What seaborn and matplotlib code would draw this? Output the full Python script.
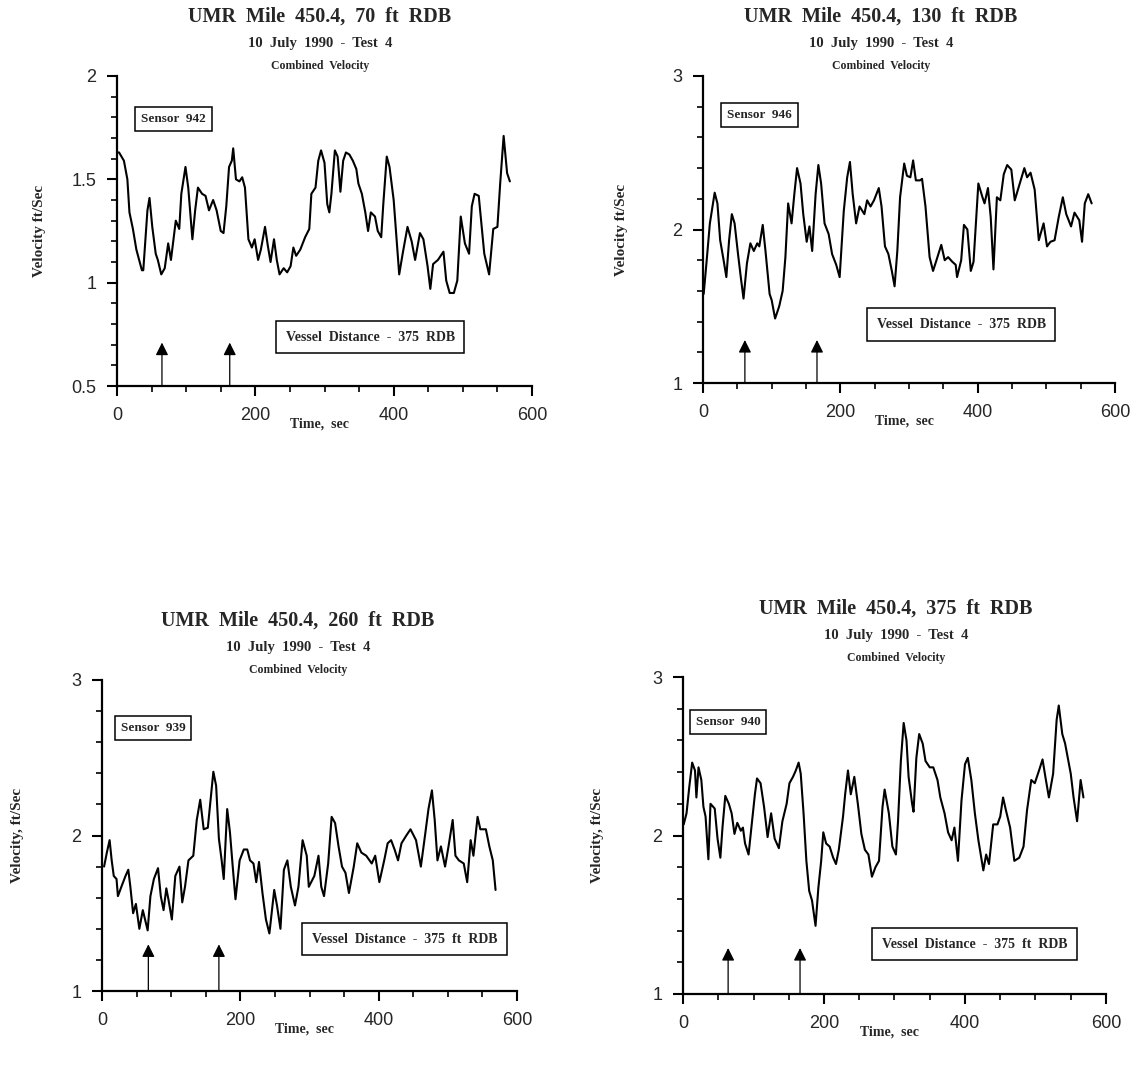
import numpy as np
import matplotlib
matplotlib.use("Agg")
import matplotlib.pyplot as plt
from matplotlib.ticker import MultipleLocator
import seaborn as sns
import pandas as pd

# panel 1 - 70 ft RDB, sensor 942
t1 = [0, 3, 10, 15, 18, 23, 28, 36, 38, 44,
      47, 51, 56, 59, 64, 69, 74, 78, 85, 90,
      93, 99, 103, 109, 113, 117, 123, 128, 133, 139,
      144, 150, 154, 158, 162, 166, 168, 172, 177, 181,
      185, 190, 195, 199, 204, 208, 214, 218, 222, 227,
      231, 235, 241, 246, 251, 255, 259, 265, 272, 278,
      281, 287, 291, 295, 300, 304, 307, 310, 315, 319,
      323, 327, 331, 336, 341, 346, 349, 354, 359, 363,
      367, 373, 377, 382, 385, 390, 394, 400, 404, 408,
      413, 420, 426, 431, 438, 443, 449, 453, 457, 464,
      472, 476, 481, 487, 492, 497, 503, 509, 513, 517,
      523, 531, 538, 544, 550, 554, 559, 564, 568]
v1 = [1.63, 1.63, 1.59, 1.50, 1.34, 1.26, 1.16, 1.06, 1.06, 1.35,
      1.41, 1.27, 1.14, 1.11, 1.04, 1.07, 1.19, 1.11, 1.30, 1.26,
      1.43, 1.56, 1.46, 1.21, 1.35, 1.46, 1.43, 1.42, 1.35, 1.40,
      1.35, 1.25, 1.24, 1.37, 1.56, 1.59, 1.65, 1.50, 1.49, 1.51,
      1.46, 1.21, 1.17, 1.21, 1.11, 1.16, 1.27, 1.18, 1.10, 1.21,
      1.11, 1.04, 1.07, 1.05, 1.08, 1.17, 1.13, 1.16, 1.22, 1.26,
      1.43, 1.46, 1.59, 1.64, 1.58, 1.38, 1.34, 1.43, 1.64, 1.61,
      1.44, 1.59, 1.63, 1.62, 1.59, 1.55, 1.48, 1.43, 1.34, 1.25,
      1.34, 1.32, 1.25, 1.22, 1.38, 1.61, 1.56, 1.40, 1.22, 1.04,
      1.14, 1.27, 1.20, 1.11, 1.24, 1.21, 1.08, 0.97, 1.09, 1.11,
      1.15, 1.01, 0.95, 0.95, 1.01, 1.32, 1.19, 1.14, 1.37, 1.43,
      1.42, 1.14, 1.04, 1.26, 1.27, 1.48, 1.71, 1.53, 1.49]

# panel 2 - 130 ft RDB, sensor 946
t2 = [1, 5, 10, 17, 21, 25, 30, 34, 38, 42,
      46, 51, 55, 59, 64, 69, 74, 79, 82, 87,
      91, 97, 100, 105, 111, 116, 120, 124, 129, 133,
      137, 142, 146, 151, 155, 159, 164, 168, 172, 177,
      183, 188, 194, 199, 205, 210, 214, 218, 223, 228,
      235, 239, 244, 249, 256, 260, 265, 270, 275, 279,
      283, 287, 293, 297, 302, 306, 310, 316, 319, 324,
      330, 335, 340, 347, 352, 357, 363, 368, 370, 376,
      380, 385, 390, 394, 401, 407, 410, 415, 419, 423,
      428, 433, 438, 443, 449, 454, 460, 468, 472, 477,
      483, 489, 496, 501, 506, 512, 518, 524, 529, 536,
      541, 548, 552, 556, 561, 566]
v2 = [1.58, 1.78, 2.04, 2.24, 2.17, 1.93, 1.80, 1.69, 1.93, 2.10,
      2.04, 1.84, 1.69, 1.55, 1.78, 1.91, 1.86, 1.91, 1.89, 2.03,
      1.86, 1.58, 1.54, 1.42, 1.50, 1.60, 1.82, 2.17, 2.04, 2.23,
      2.40, 2.30, 2.10, 1.92, 2.02, 1.86, 2.23, 2.42, 2.30, 2.04,
      1.97, 1.84, 1.77, 1.69, 2.12, 2.34, 2.44, 2.23, 2.04, 2.15,
      2.10, 2.19, 2.15, 2.19, 2.27, 2.15, 1.89, 1.84, 1.73, 1.63,
      1.86, 2.21, 2.43, 2.35, 2.34, 2.45, 2.32, 2.32, 2.33, 2.15,
      1.82, 1.73, 1.80, 1.90, 1.80, 1.82, 1.79, 1.77, 1.69, 1.80,
      2.03, 2.00, 1.73, 1.79, 2.30, 2.21, 2.17, 2.27, 2.08, 1.74,
      2.21, 2.19, 2.36, 2.42, 2.39, 2.19, 2.28, 2.40, 2.34, 2.37,
      2.26, 1.93, 2.04, 1.89, 1.92, 1.93, 2.08, 2.21, 2.10, 2.02,
      2.11, 2.06, 1.92, 2.17, 2.23, 2.17]

# panel 3 - 260 ft RDB, sensor 939
t3 = [3, 7, 11, 14, 17, 21, 23, 28, 34, 38,
      41, 45, 49, 54, 59, 66, 70, 75, 81, 85,
      89, 93, 96, 101, 106, 112, 116, 120, 125, 132,
      137, 142, 147, 153, 157, 161, 165, 169, 173, 176,
      181, 185, 189, 193, 199, 205, 210, 214, 219, 223,
      227, 232, 237, 242, 249, 253, 258, 263, 268, 273,
      279, 284, 290, 296, 299, 307, 313, 317, 321, 327,
      332, 337, 342, 347, 352, 357, 364, 369, 375, 382,
      390, 395, 401, 408, 413, 418, 423, 428, 433, 440,
      446, 454, 461, 467, 472, 477, 481, 485, 490, 496,
      501, 507, 511, 516, 523, 528, 533, 537, 543, 547,
      555, 560, 565, 569]
v3 = [1.80, 1.89, 1.97, 1.84, 1.74, 1.72, 1.61, 1.67, 1.74, 1.78,
      1.67, 1.50, 1.56, 1.40, 1.52, 1.39, 1.61, 1.72, 1.79, 1.61,
      1.52, 1.66, 1.59, 1.46, 1.74, 1.80, 1.57, 1.67, 1.84, 1.87,
      2.10, 2.23, 2.04, 2.05, 2.23, 2.41, 2.32, 1.98, 1.84, 1.72,
      2.17, 2.02, 1.80, 1.59, 1.84, 1.91, 1.91, 1.84, 1.82, 1.70,
      1.83, 1.63, 1.46, 1.37, 1.65, 1.55, 1.40, 1.78, 1.84, 1.67,
      1.55, 1.67, 1.97, 1.87, 1.67, 1.74, 1.87, 1.67, 1.61, 1.82,
      2.12, 2.08, 1.93, 1.80, 1.76, 1.63, 1.80, 1.95, 1.89, 1.87,
      1.82, 1.87, 1.70, 1.84, 1.95, 1.97, 1.91, 1.84, 1.95, 2.00,
      2.04, 1.97, 1.80, 2.00, 2.17, 2.29, 2.10, 1.84, 1.93, 1.80,
      1.93, 2.10, 1.87, 1.84, 1.82, 1.70, 1.97, 1.87, 2.12, 2.04,
      2.04, 1.93, 1.84, 1.65]

# panel 4 - 375 ft RDB, sensor 940
t4 = [1, 5, 9, 13, 17, 19, 22, 26, 29, 32,
      36, 39, 45, 49, 53, 56, 60, 65, 69, 73,
      77, 82, 85, 88, 93, 97, 102, 105, 110, 115,
      120, 125, 130, 136, 141, 147, 151, 156, 160, 164,
      167, 171, 175, 179, 183, 188, 192, 196, 199, 203,
      208, 213, 217, 221, 227, 230, 234, 238, 243, 248,
      253, 258, 263, 268, 273, 278, 283, 286, 292, 297,
      302, 305, 309, 313, 317, 320, 325, 327, 331, 335,
      340, 344, 350, 355, 361, 365, 371, 376, 381, 385,
      390, 395, 400, 404, 409, 414, 419, 426, 430, 434,
      440, 446, 450, 454, 458, 464, 470, 477, 483, 488,
      494, 499, 505, 510, 514, 519, 525, 530, 533, 538,
      542, 550, 554, 559, 564, 568]
v4 = [2.07, 2.14, 2.31, 2.46, 2.41, 2.24, 2.43, 2.35, 2.18, 2.12,
      1.85, 2.20, 2.17, 1.98, 1.86, 2.05, 2.25, 2.20, 2.14, 2.01,
      2.08, 2.03, 2.05, 1.95, 1.88, 2.05, 2.26, 2.36, 2.33, 2.18,
      1.99, 2.14, 1.98, 1.92, 2.09, 2.20, 2.33, 2.37, 2.41, 2.46,
      2.39, 2.14, 1.84, 1.65, 1.59, 1.43, 1.67, 1.84, 2.02, 1.95,
      1.93, 1.86, 1.82, 1.91, 2.12, 2.26, 2.41, 2.26, 2.37, 2.20,
      2.01, 1.91, 1.88, 1.74, 1.80, 1.84, 2.18, 2.29, 2.14, 1.93,
      1.88, 2.09, 2.47, 2.71, 2.60, 2.37, 2.20, 2.15, 2.49, 2.64,
      2.58, 2.47, 2.43, 2.43, 2.35, 2.24, 2.14, 2.02, 1.97, 2.05,
      1.84, 2.22, 2.45, 2.49, 2.35, 2.14, 1.97, 1.78, 1.88, 1.82,
      2.07, 2.07, 2.12, 2.24, 2.16, 2.05, 1.84, 1.86, 1.93, 2.16,
      2.35, 2.33, 2.41, 2.48, 2.37, 2.24, 2.39, 2.73, 2.82, 2.64,
      2.58, 2.39, 2.24, 2.09, 2.35, 2.24]

titles = ["UMR  Mile  450.4,  70  ft  RDB", "UMR  Mile  450.4,  130  ft  RDB",
          "UMR  Mile  450.4,  260  ft  RDB", "UMR  Mile  450.4,  375  ft  RDB"]
sensors = ["Sensor  942", "Sensor  946", "Sensor  939", "Sensor  940"]
vessel_labels = ["Vessel  Distance  -  375  RDB", "Vessel  Distance  -  375  RDB",
                 "Vessel  Distance  -  375  ft  RDB", "Vessel  Distance  -  375  ft  RDB"]
ylabels = ["Velocity ft/Sec", "Velocity ft/Sec", "Velocity, ft/Sec", "Velocity, ft/Sec"]
arrow_times = [[65, 163], [61, 166], [67, 169], [64, 166]]
ylims = [(0.5, 2.0), (1.0, 3.0), (1.0, 3.0), (1.0, 3.0)]
yticks = [[0.5, 1, 1.5, 2], [1, 2, 3], [1, 2, 3], [1, 2, 3]]
yticklabels = [["0.5", "1", "1.5", "2"], ["1", "2", "3"], ["1", "2", "3"], ["1", "2", "3"]]

sns.set_style("ticks")
plt.rcParams['font.family'] = ['Liberation Sans', 'DejaVu Sans']

W, H = 1146, 1069
fig = plt.figure(figsize=(W / 100, H / 100), dpi=100)

# axes boxes in pixels: left, top, right, bottom
boxes = [(117, 76, 532, 386), (703, 76, 1115, 383), (102, 680, 517, 991), (683, 677, 1106, 994)]
# text anchors in pixels
title_xy = [(320, 17), (881, 17), (298, 621), (896, 609)]
ylab_x = [40, 622, 18, 598]
sensor_pos = [(82, 1.79), (82, 2.744), (74, 2.69), (64, 2.716)]
vessel_pos = [(366, 0.737), (376, 1.382), (438, 1.334), (414, 1.315)]
arrow_tip = [0.71, 1.28, 1.30, 1.29]
ymin_step = [0.1, 0.2, 0.2, 0.2]

series = [(t1, v1), (t2, v2), (t3, v3), (t4, v4)]
serif = ['Liberation Serif', 'DejaVu Serif']

for i, (tt, vv) in enumerate(series):
    l, tp, r, b = boxes[i]
    ax = fig.add_axes([l / W, 1 - b / H, (r - l) / W, (b - tp) / H])
    df = pd.DataFrame({'Time': tt, 'Velocity': vv})
    sns.lineplot(data=df, x='Time', y='Velocity', ax=ax, color='black', lw=1.5)
    ax.set_xlim(0, 600)
    ax.set_ylim(*ylims[i])
    ax.set_xticks([0, 200, 400, 600])
    ax.set_xticklabels(["0", "200", "400", "600"], fontsize=13)
    ax.set_yticks(yticks[i])
    ax.set_yticklabels(yticklabels[i], fontsize=13)
    ax.xaxis.set_minor_locator(MultipleLocator(50))
    ax.yaxis.set_minor_locator(MultipleLocator(ymin_step[i]))
    ax.tick_params(which='major', direction='out', length=7, width=1.5, color='black', pad=8)
    ax.tick_params(which='minor', direction='out', length=4, width=1.2, color='black')
    for s in ['top', 'right']:
        ax.spines[s].set_visible(False)
    for s in ['left', 'bottom']:
        ax.spines[s].set_linewidth(1.6)
        ax.spines[s].set_color('black')
    ax.set_xlabel("")
    ax.set_ylabel("")
    ax.patch.set_alpha(0)

    # vessel passage arrows
    for at in arrow_times[i]:
        ax.annotate("", xy=(at, arrow_tip[i]), xytext=(at, ylims[i][0]),
                    arrowprops=dict(arrowstyle='-|>', color='black', lw=0.9,
                                    mutation_scale=19, shrinkA=0, shrinkB=0))

    ax.text(sensor_pos[i][0], sensor_pos[i][1], sensors[i], ha='center', va='center',
            fontsize=9.5, fontweight='bold', family=serif,
            bbox=dict(boxstyle='square,pad=0.45', fc='white', ec='black', lw=1.1))
    ax.text(vessel_pos[i][0], vessel_pos[i][1], vessel_labels[i], ha='center', va='center',
            fontsize=10, fontweight='bold', family=serif,
            bbox=dict(boxstyle='square,pad=0.7', fc='white', ec='black', lw=1.1))

    # titles above each panel
    tx, ty = title_xy[i]
    fig.text(tx / W, 1 - ty / H, titles[i], ha='center', va='center',
             fontsize=14.5, fontweight='bold', family=serif)
    fig.text(tx / W, 1 - (ty + 27) / H, "10  July  1990  -  Test  4", ha='center', va='center',
             fontsize=10.5, fontweight='bold', family=serif)
    fig.text(tx / W, 1 - (ty + 49) / H, "Combined  Velocity", ha='center', va='center',
             fontsize=8.5, fontweight='bold', family=serif)

    # axis labels
    fig.text(ylab_x[i] / W, 1 - ((tp + b) / 2) / H, ylabels[i], rotation=90,
             ha='center', va='center', fontsize=11, fontweight='bold', family=serif)
    fig.text(((l + r) / 2 - 5) / W, 1 - (b + 38) / H, "Time,  sec", ha='center', va='center',
             fontsize=10, fontweight='bold', family=serif)

fig.savefig("out.png", dpi=100)
